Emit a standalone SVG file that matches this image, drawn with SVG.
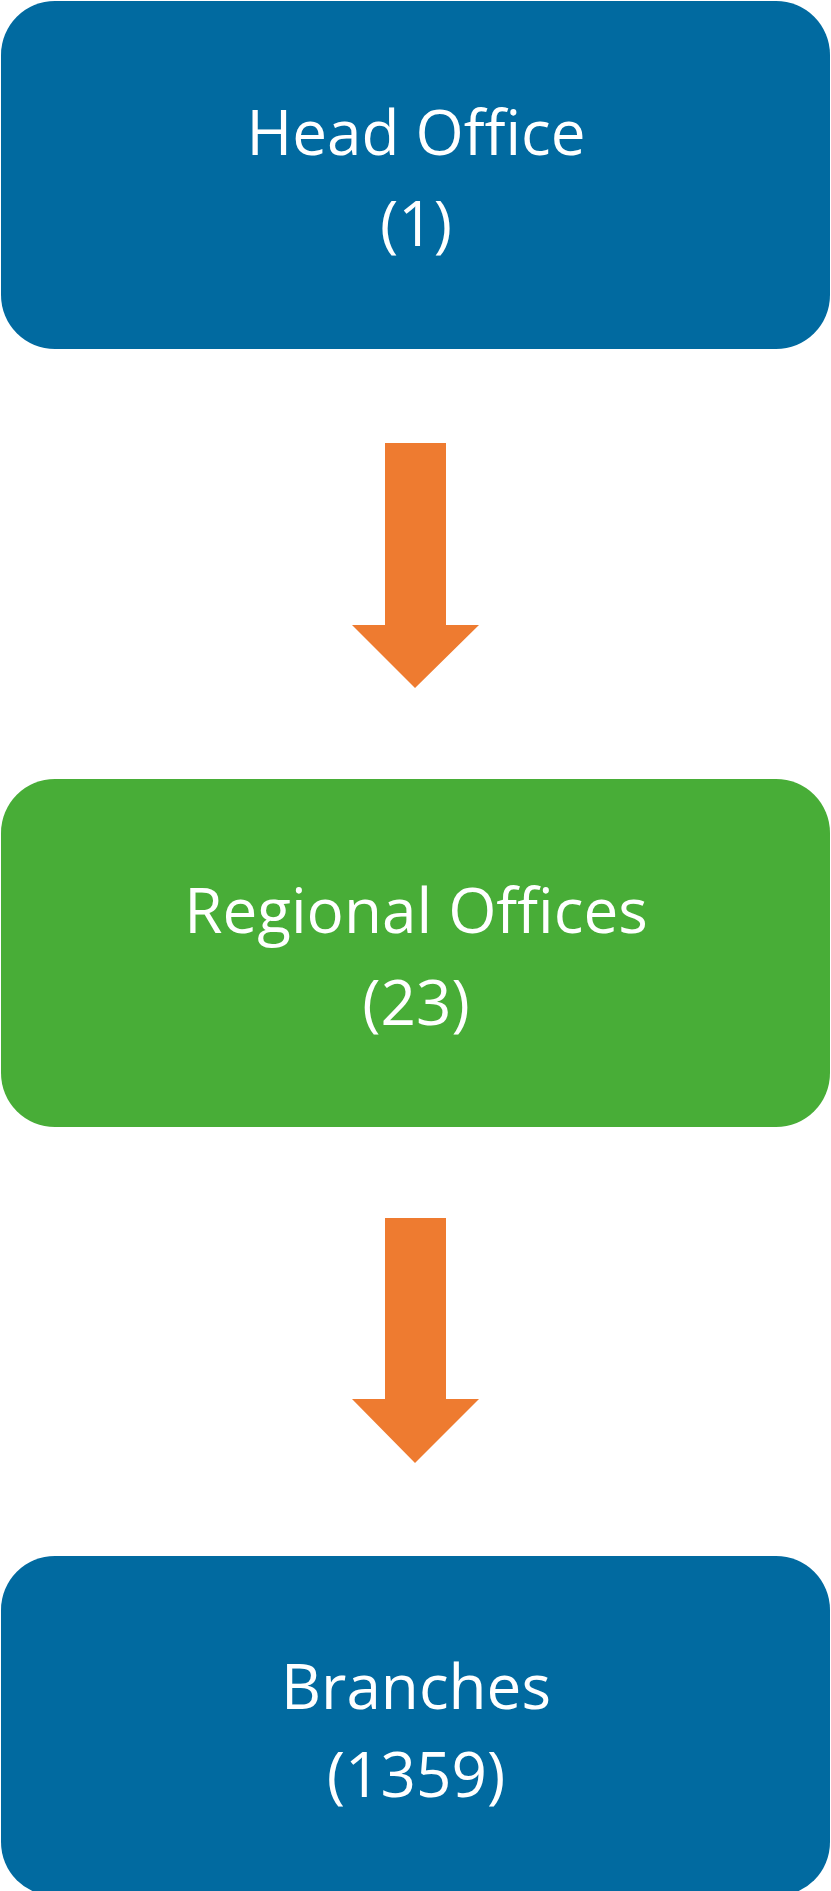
<svg xmlns="http://www.w3.org/2000/svg" width="831" height="1891" viewBox="0 0 831 1891">
<style>
.t{font-family:"Open Sans","Liberation Sans",sans-serif;font-size:62px;fill:#fff;text-anchor:middle}
.a{fill:#ee7b30}
</style>
<rect width="831" height="1891" fill="#fff"/>
<g id="head">
<rect x="1" y="1" width="829" height="348" rx="54" fill="#016aa0"/>
<text class="t" x="416" y="155">Head Office</text>
<text class="t" x="416" y="246">(1)</text>
</g>
<g id="regional">
<rect x="1" y="779" width="829" height="348" rx="54" fill="#48ad37"/>
<text class="t" x="416" y="933">Regional Offices</text>
<text class="t" x="416" y="1025">(23)</text>
</g>
<g id="branches">
<rect x="1" y="1556" width="829" height="340" rx="54" fill="#016aa0"/>
<text class="t" x="416" y="1709">Branches</text>
<text class="t" x="416" y="1797">(1359)</text>
</g>
<g id="connectors">
<polygon class="a" points="385,443 446,443 446,625 479,625 415,688 352,625 385,625"/>
<polygon class="a" points="385,1218 446,1218 446,1399 479,1399 415,1463 352,1399 385,1399"/>
</g>
</svg>
